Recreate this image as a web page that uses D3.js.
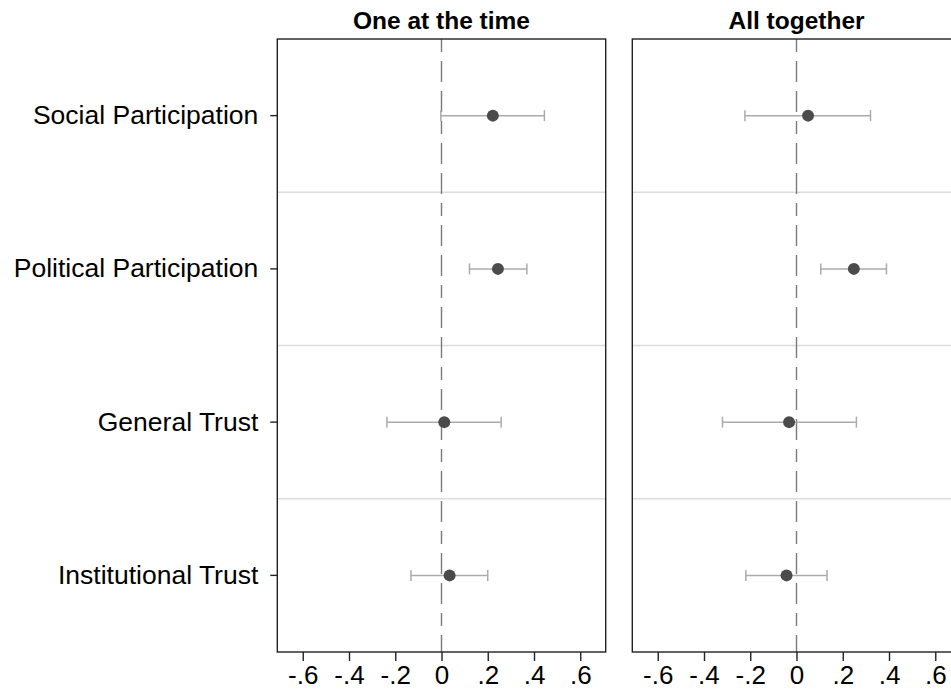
<!DOCTYPE html>
<html>
<head>
<meta charset="utf-8">
<script src="https://cdn.jsdelivr.net/npm/d3@7"></script>
<style>
  html, body { margin: 0; padding: 0; background: #fff; overflow: hidden; }
  svg { display: block; font-family: "Liberation Sans", Arial, Helvetica, sans-serif; }
</style>
</head>
<body>
<svg id="chart" width="951" height="694"></svg>
<script>
// Coefficient estimates with confidence intervals, two model specifications
const categories = ["Social Participation", "Political Participation", "General Trust", "Institutional Trust"];
const panelTitles = ["One at the time", "All together"];

const oneEst = [0.222, 0.244, 0.012, 0.035];
const oneLo  = [-0.003, 0.121, -0.236, -0.132];
const oneHi  = [0.445, 0.369, 0.258, 0.200];

const allEst = [0.050, 0.248, -0.032, -0.043];
const allLo  = [-0.223, 0.105, -0.320, -0.219];
const allHi  = [0.320, 0.389, 0.259, 0.132];

const xTicks = [-0.6, -0.4, -0.2, 0, 0.2, 0.4, 0.6];
const xDomain = [-0.71, 0.71];

const svg = d3.select("#chart");

const plotTop = 39, plotBottom = 652;
const panelW = 328.4;
const panelLefts = [277.3, 632.3];

const y = d3.scaleBand().domain(categories).range([plotTop, plotBottom]).padding(0);

// Stata-style labels: "-.6", "0", ".2"
const fmt = d => d === 0 ? "0" : d3.format(".1f")(d).replace("\u2212", "-").replace("0.", ".");

const panels = [
  { title: panelTitles[0], est: oneEst, lo: oneLo, hi: oneHi },
  { title: panelTitles[1], est: allEst, lo: allLo, hi: allHi }
];

panels.forEach((p, i) => {
  const x0 = panelLefts[i];
  const x = d3.scaleLinear().domain(xDomain).range([x0, x0 + panelW]);
  const g = svg.append("g");

  const rows = categories.map((c, k) => ({ c, est: p.est[k], lo: p.lo[k], hi: p.hi[k] }));
  const cy = d => y(d.c) + y.bandwidth() / 2;

  // row separators
  g.selectAll("line.sep")
    .data(categories.slice(1))
    .join("line")
    .attr("class", "sep")
    .attr("x1", x0).attr("x2", x0 + panelW)
    .attr("y1", d => y(d)).attr("y2", d => y(d))
    .attr("stroke", "#dcdcdc").attr("stroke-width", 1.6);

  // reference line at zero
  g.append("line")
    .attr("x1", x(0)).attr("x2", x(0))
    .attr("y1", plotTop).attr("y2", plotBottom)
    .attr("stroke", "#7a7a7a").attr("stroke-width", 1.4)
    .attr("stroke-dasharray", "13,9,21,9,21,9");

  // confidence intervals
  const ci = g.selectAll("g.ci").data(rows).join("g").attr("class", "ci")
    .attr("stroke", "#ababab").attr("stroke-width", 1.5);
  ci.append("line")
    .attr("x1", d => x(d.lo)).attr("x2", d => x(d.hi))
    .attr("y1", cy).attr("y2", cy);
  ci.append("line")
    .attr("x1", d => x(d.lo)).attr("x2", d => x(d.lo))
    .attr("y1", d => cy(d) - 5.5).attr("y2", d => cy(d) + 5.5);
  ci.append("line")
    .attr("x1", d => x(d.hi)).attr("x2", d => x(d.hi))
    .attr("y1", d => cy(d) - 5.5).attr("y2", d => cy(d) + 5.5);

  // point estimates
  g.selectAll("circle").data(rows).join("circle")
    .attr("cx", d => x(d.est))
    .attr("cy", cy)
    .attr("r", 6)
    .attr("fill", "#4b4b4b");

  // panel frame
  g.append("rect")
    .attr("x", x0).attr("y", plotTop)
    .attr("width", panelW).attr("height", plotBottom - plotTop)
    .attr("fill", "none").attr("stroke", "#222").attr("stroke-width", 1.4);

  // x axis
  const xAxis = d3.axisBottom(x).tickValues(xTicks).tickFormat(fmt).tickSize(9).tickPadding(5);
  const ax = g.append("g").attr("transform", `translate(0,${plotBottom})`).call(xAxis);
  ax.select(".domain").remove();
  ax.selectAll(".tick line").attr("stroke", "#222").attr("stroke-width", 1.4);
  ax.selectAll(".tick text")
    .attr("fill", "#000")
    .style("font-size", "26px")
    .style("font-family", "'Liberation Sans', Arial, sans-serif");

  // title
  g.append("text")
    .attr("x", x0 + panelW / 2).attr("y", 29)
    .attr("text-anchor", "middle")
    .style("font-size", "24.5px").style("font-weight", "bold")
    .attr("fill", "#000")
    .text(p.title);

  // y axis on the first panel only
  if (i === 0) {
    const yAxis = d3.axisLeft(y).tickSize(7).tickPadding(12);
    const ay = g.append("g").attr("transform", `translate(${x0},0)`).call(yAxis);
    ay.select(".domain").remove();
    ay.selectAll(".tick line").attr("stroke", "#222").attr("stroke-width", 1.4);
    ay.selectAll(".tick text")
      .attr("fill", "#000")
      .style("font-size", "26.5px")
      .style("font-family", "'Liberation Sans', Arial, sans-serif");
  }
});
</script>
</body>
</html>
